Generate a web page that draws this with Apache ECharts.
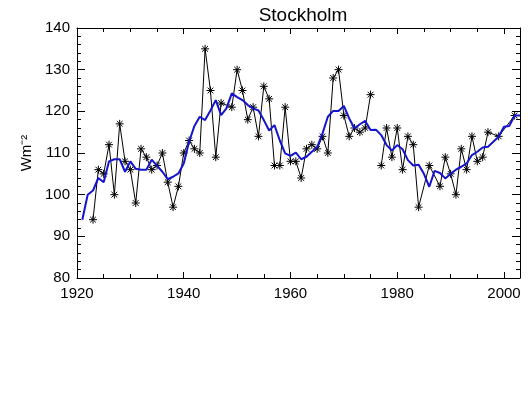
<!DOCTYPE html>
<html>
<head>
<meta charset="utf-8">
<script src="https://cdn.jsdelivr.net/npm/echarts@6/dist/echarts.min.js"></script>
<style>
  html, body { margin: 0; padding: 0; background: #fff; }
  #main { width: 530px; height: 398px; }
</style>
</head>
<body>
<div id="main"></div>
<script>
// yearly values (asterisks); null = break in the line
var obsYears = [1923, 1924, 1925, 1926, 1927, 1928, 1929, 1930, 1931, 1932, 1933, 1934, 1935, 1936, 1937, 1938, 1939,
  1940, 1941, 1942, 1943, 1944, 1945, 1946, 1947, 1949, 1950, 1951, 1952, 1953, 1954, 1955, 1956, 1957, 1958, 1959,
  1960, 1961, 1962, 1963, 1964, 1965, 1966, 1967, 1968, 1969, 1970, 1971, 1972, 1973, 1974, 1975, 1976, 1977, 1978, 1979,
  1980, 1981, 1982, 1983, 1984, 1986, 1988, 1989, 1990, 1991, 1992, 1993, 1994, 1995, 1996, 1997, 1999, 2002];
var obsValues = [94, 106, 105, 112, 100, 117, 108, 106, 98, 111, 109, 106, 107, 110, 103, 97, 102,
  110, 113, 111, 110, 135, 125, 109, 122, 121, 130, 125, 118, 121, 114, 126, 123, 107, 107, 121,
  108, 108, 104, 111, 112, 111, 114, 110, 128, 130, 119, 114, 116, 115, 116, 124, null, 107, 116, 109,
  116, 106, 114, 112, 97, 107, 102, 109, 105, 100, 111, 106, 114, 108, 109, 115, 114, 119];

// smoothed curve (blue)
var smoothYears = [1921, 1922, 1923, 1924, 1925, 1926, 1927, 1928, 1929, 1930, 1931, 1932, 1933, 1934, 1935, 1936, 1937, 1938, 1939,
  1940, 1941, 1942, 1943, 1944, 1945, 1946, 1947, 1948, 1949, 1950, 1951, 1952, 1953, 1954, 1955, 1956, 1957, 1958, 1959,
  1960, 1961, 1962, 1963, 1964, 1965, 1966, 1967, 1968, 1969, 1970, 1971, 1972, 1973, 1974, 1975, 1976, 1977, 1978, 1979,
  1980, 1981, 1982, 1983, 1984, 1985, 1986, 1987, 1988, 1989, 1990, 1991, 1992, 1993, 1994, 1995, 1996, 1997, 1998, 1999,
  2000, 2001, 2002, 2003];
var smoothValues = [94, 100, 101, 104, 103, 108, 108.5, 108.5, 105.5, 108, 106.2, 106, 106, 108.4, 106.9, 105.5, 103.7, 104.3, 105.1,
  107.5, 112.7, 116.5, 118.7, 117.9, 120.2, 122.7, 119.1, 120.7, 124.3, 123.4, 122.7, 121.5, 120.7, 120.2, 117.9, 115.4, 116.7, 113, 109.9,
  109.3, 110.1, 108.5, 109.1, 110.3, 111.4, 114.7, 118.7, 120.1, 120.1, 121.3, 118.3, 115.9, 116.9, 117.7, 115.5, 115.6, 114.3, 111.9, 110.6,
  111.9, 110.9, 108.3, 107, 107.2, 105, 101.9, 105.7, 105.2, 103.9, 105, 106, 106.7, 107.5, 109.5, 110.3, 111.3, 111.5, 112.7, 113.9,
  116.3, 116.5, 119, 119];

var xTicks = [1920, 2003, 20];   // min, max, interval
var yTicks = [80, 140, 10];

var fontFam = '"Liberation Sans", Arial, sans-serif';
var asterisk = 'path://M0,-5L0,5M-5,0L5,0M-3.6,-3.6L3.6,3.6M-3.6,3.6L3.6,-3.6';

function pairs(xs, vs) {
  return xs.map(function (x, i) { return [x, vs[i] == null ? '-' : vs[i]]; });
}

function xAx(pos, labels) {
  return {
    type: 'value', position: pos,
    min: xTicks[0], max: xTicks[1], interval: xTicks[2],
    axisLine: { onZero: false, lineStyle: { color: '#000', width: 1 } },
    axisTick: { inside: true, length: 6, lineStyle: { color: '#000' } },
    minorTick: { show: true, splitNumber: 4, length: 4, lineStyle: { color: '#000' } },
    splitLine: { show: false },
    axisLabel: {
      show: labels, color: '#000', fontSize: 15, fontFamily: fontFam, margin: 8, showMaxLabel: false,
      formatter: function (v) { return String(v); }
    }
  };
}

function yAx(pos, labels) {
  var ax = {
    type: 'value', position: pos,
    min: yTicks[0], max: yTicks[1], interval: yTicks[2],
    axisLine: { show: true, onZero: false, lineStyle: { color: '#000', width: 1 } },
    axisTick: { show: true, inside: true, length: 8, lineStyle: { color: '#000' } },
    minorTick: { show: true, splitNumber: 5, length: 4, lineStyle: { color: '#000' } },
    splitLine: { show: false },
    axisLabel: { show: labels, color: '#000', fontSize: 15, fontFamily: fontFam, margin: 7 }
  };
  if (labels) {
    ax.name = 'Wm\u207B\u00B2';
    ax.nameLocation = 'middle';
    ax.nameGap = 35;
    ax.nameRotate = 90;
    ax.nameTextStyle = { color: '#000', fontSize: 15, fontFamily: fontFam };
  }
  return ax;
}

var option = {
  animation: false,
  backgroundColor: '#fff',
  title: {
    text: 'Stockholm', left: 298, top: 1, textAlign: 'center',
    textStyle: { color: '#000', fontSize: 19, fontWeight: 'normal', fontFamily: fontFam }
  },
  grid: { left: 77, right: 10, top: 28, bottom: 120 },
  xAxis: [xAx('bottom', true), xAx('top', false)],
  yAxis: [yAx('left', true), yAx('right', false)],
  series: [
    {
      name: 'annual', type: 'line',
      data: pairs(obsYears, obsValues),
      connectNulls: false,
      symbol: asterisk, symbolSize: 8, symbolKeepAspect: true, showAllSymbol: true,
      lineStyle: { color: '#000', width: 1 },
      itemStyle: { color: '#000', borderColor: '#000', borderWidth: 1 },
      z: 2
    },
    {
      name: 'smooth', type: 'line',
      data: pairs(smoothYears, smoothValues),
      symbol: 'none',
      lineStyle: { color: '#1414cc', width: 2 },
      z: 3
    }
  ]
};

var chart = echarts.init(document.getElementById('main'));
chart.setOption(option);
</script>
</body>
</html>
